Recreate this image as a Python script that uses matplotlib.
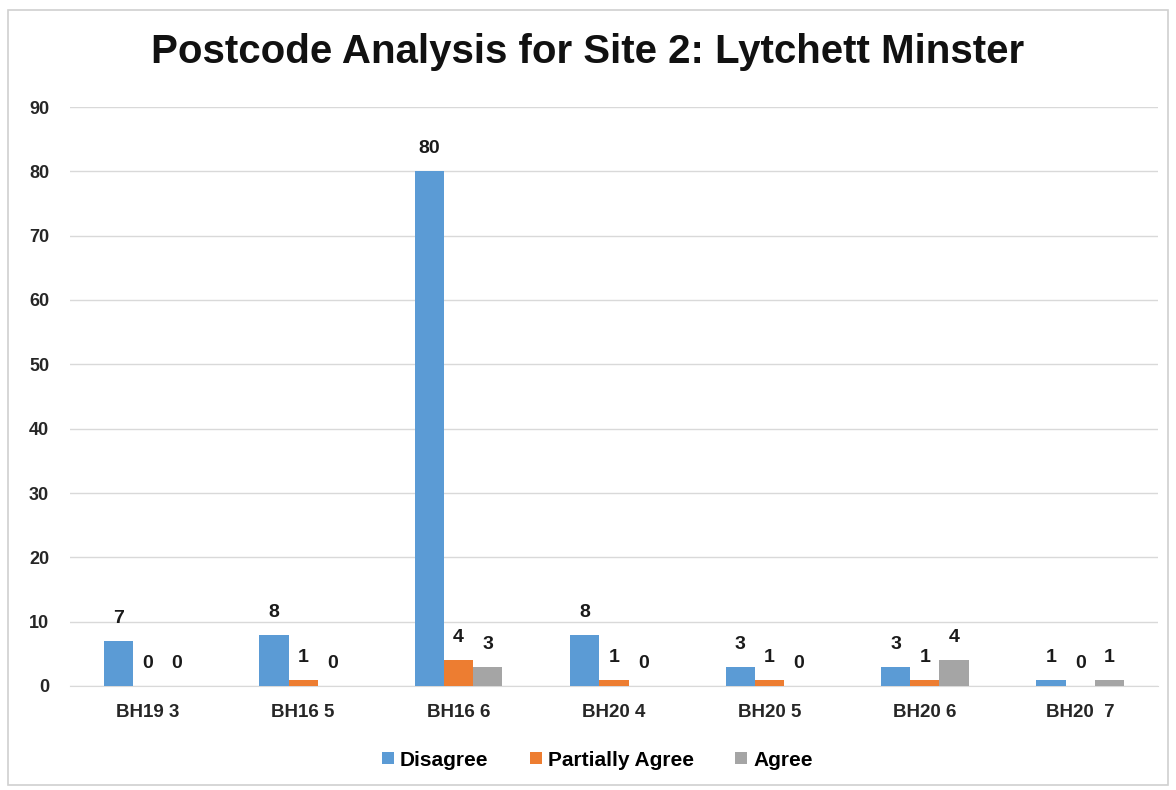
import matplotlib
matplotlib.use("Agg")
import matplotlib.pyplot as plt
import numpy as np
from matplotlib.patches import Rectangle

categories = ["BH19 3", "BH16 5", "BH16 6", "BH20 4", "BH20 5", "BH20 6", "BH20  7"]
disagree = [7, 8, 80, 8, 3, 3, 1]
partially = [0, 1, 4, 1, 1, 1, 0]
agree = [0, 0, 3, 0, 0, 4, 1]
series = [("Disagree", disagree, "#5B9BD5"),
          ("Partially Agree", partially, "#ED7D31"),
          ("Agree", agree, "#A5A5A5")]

plt.rcParams['font.family'] = ['Liberation Sans', 'DejaVu Sans']
fig = plt.figure(figsize=(11.76, 7.90), dpi=100)
fig.patches.append(Rectangle((8/1176, 5/790), 1160/1176, 775/790, transform=fig.transFigure,
                             fill=False, edgecolor="#D0D0D0", linewidth=1.2))
ax = fig.add_axes([70/1176, 1-686/790, 1088/1176, (686-107)/790])

x = np.arange(len(categories))
w = 0.188
for i, (name, vals, col) in enumerate(series):
    pos = x + (i - 1) * w
    ax.bar(pos, vals, width=w, color=col, label=name, zorder=3)
    for p, v in zip(pos, vals):
        ax.annotate(str(v), (p, v), xytext=(0, 10), textcoords="offset points",
                    ha="center", va="bottom", fontsize=14, fontweight="bold",
                    color="#1a1a1a")

ax.set_xlim(-0.5, len(categories) - 0.5)
ax.set_ylim(0, 90)
ax.set_yticks(np.arange(0, 91, 10))
ax.yaxis.grid(True, color="#D9D9D9", linewidth=1, zorder=0)
ax.set_axisbelow(True)
for s in ["top", "right", "left"]:
    ax.spines[s].set_visible(False)
ax.spines["bottom"].set_color("#D9D9D9")
ax.tick_params(axis="y", length=0, pad=15, labelsize=13)
ax.tick_params(axis="x", length=0, pad=13, labelsize=13.5)
ax.set_xticks(x)
ax.set_xticklabels(categories, fontweight="bold", color="#262626")
for lbl in ax.get_yticklabels():
    lbl.set_fontweight("bold")
    lbl.set_color("#262626")

fig.text(0.5, 1-52/790, "Postcode Analysis for Site 2: Lytchett Minster", ha="center",
         va="center", fontsize=29, fontweight="bold", color="#111111")

fig.legend(loc="center", bbox_to_anchor=(0.508, 1-760/790), ncol=3, frameon=False,
           handlelength=0.55, handleheight=0.55, handletextpad=0.3,
           columnspacing=2.0, prop={"weight": "bold", "size": 15})
fig.savefig("out.png", dpi=100)
